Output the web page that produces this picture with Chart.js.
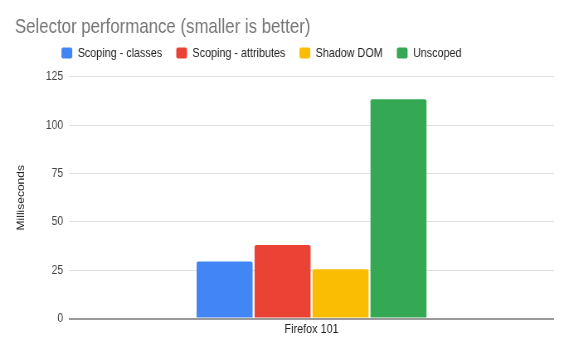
<!DOCTYPE html>
<html>
<head>
<meta charset="utf-8">
<script src="https://cdn.jsdelivr.net/npm/chart.js@4"></script>
<style>
  html, body { margin: 0; background: #fff; overflow: hidden; }
  #frame { width: 569px; height: 352px; overflow: hidden; }
  /* the reference is a horizontally squeezed screenshot, so draw wider and squeeze */
  #wrap { width: 686px; height: 352px; transform: scaleX(0.8294); transform-origin: 0 0; }
</style>
</head>
<body>
<div id="frame"><div id="wrap"><canvas id="perfChart"></canvas></div></div>
<script>
const categories = ['Firefox 101'];
const seriesNames = ['Scoping - classes', 'Scoping - attributes', 'Shadow DOM', 'Unscoped'];
const classesMs = [29.5];
const attributesMs = [38];
const shadowDomMs = [25.5];
const unscopedMs = [113.5];
const yTicks = [0, 25, 50, 75, 100, 125];

const colors = ['#4285F4', '#EA4335', '#FBBC04', '#34A853'];
const font = "'Liberation Sans', Arial, sans-serif";

// move title / legend to where the reference has them
const nudge = {
    id: 'nudge',
    afterLayout(chart) {
        chart.titleBlock.left += 18;
        chart.legend.left -= 18.7;
        chart.legend.right -= 18.7;
        chart.legend.top -= 7.4;
    }
};

const ctx = document.getElementById('perfChart').getContext('2d');

const perfChart = new Chart(ctx, {
    type: 'bar',
    data: {
        labels: categories,
        datasets: [classesMs, attributesMs, shadowDomMs, unscopedMs].map((d, i) => ({
            label: seriesNames[i],
            data: d,
            backgroundColor: colors[i],
            borderWidth: 0,
            borderRadius: 2,
            categoryPercentage: 0.478,
            barPercentage: 0.966
        }))
    },
    options: {
        responsive: true,
        maintainAspectRatio: false,
        animation: false,
        layout: { padding: { left: 0, right: 18, top: 0, bottom: 0 } },
        plugins: {
            title: {
                display: true,
                text: 'Selector performance (smaller is better)',
                align: 'start',
                color: '#757575',
                font: { family: font, size: 20.3, weight: 'normal', lineHeight: 1.2 },
                padding: { top: 15, bottom: -2.4 }
            },
            legend: {
                position: 'top',
                align: 'center',
                labels: {
                    boxWidth: 13,
                    boxHeight: 11,
                    useBorderRadius: true,
                    borderRadius: 2,
                    padding: 17,
                    color: '#222222',
                    font: { family: font, size: 13 }
                }
            },
            tooltip: { enabled: false }
        },
        scales: {
            x: {
                grid: { display: false, drawTicks: false },
                border: { display: false },
                ticks: { color: '#222222', padding: 3, font: { family: font, size: 13 } },
                afterFit(scale) { scale.height = 33.5; }
            },
            y: {
                min: yTicks[0],
                max: yTicks[yTicks.length - 1],
                afterBuildTicks(scale) { scale.ticks = yTicks.map(v => ({ value: v })); },
                grid: {
                    drawTicks: false,
                    color: c => c.tick && c.tick.value === 0 ? '#9a9a9a' : '#e0e0e0',
                    lineWidth: c => c.tick && c.tick.value === 0 ? 2 : 1
                },
                border: { display: false },
                ticks: { color: '#444444', padding: 7, font: { family: font, size: 12.5 } },
                title: {
                    display: true,
                    text: 'Milliseconds',
                    color: '#222222',
                    font: { family: font, size: 12 },
                    padding: { top: 18, bottom: 0 }
                },
                afterFit(scale) { scale.width = 83.2; }
            }
        }
    },
    plugins: [nudge]
});
</script>
</body>
</html>
